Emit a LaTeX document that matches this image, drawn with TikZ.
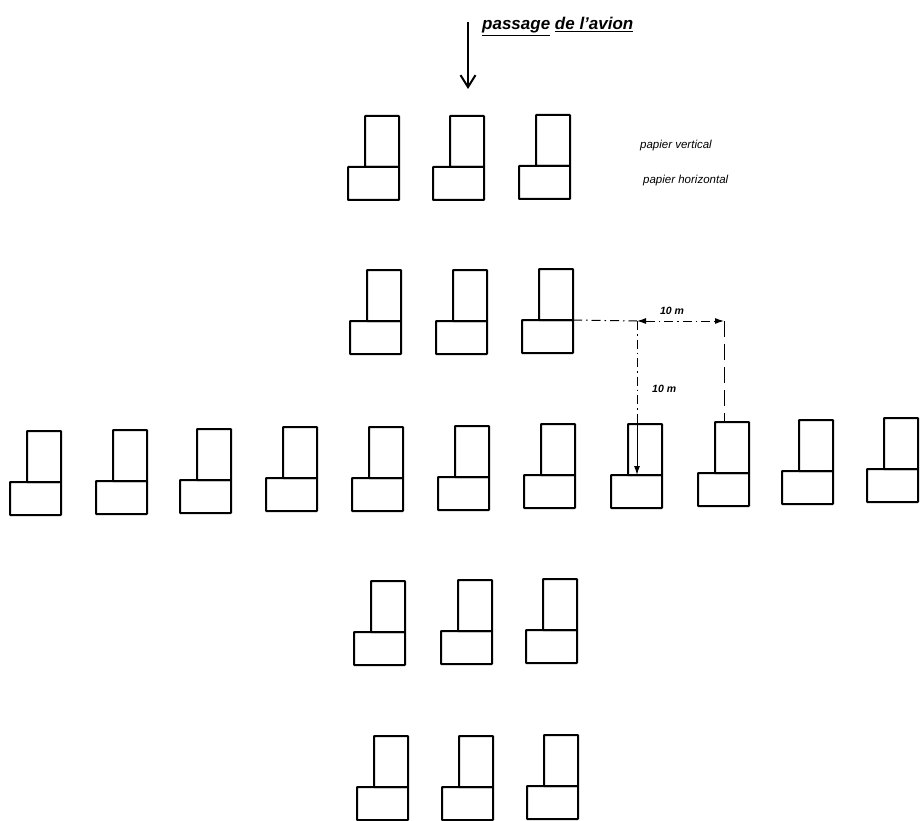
\documentclass[tikz,border=0pt]{standalone}
\usepackage{fontspec}
\setmainfont{Liberation Sans}
\usepackage{tikz}
\usetikzlibrary{arrows.meta,positioning,calc}
\tikzset{
  vpaper/.style={rectangle,draw,line width=2pt,rounded corners=0.6pt,
    inner sep=0pt,outer sep=0pt,minimum width=34pt,minimum height=51pt,
    anchor=south east},
  hpaper/.style={rectangle,draw,line width=2pt,rounded corners=0.6pt,
    inner sep=0pt,outer sep=0pt,minimum width=51pt,minimum height=33pt,
    anchor=north east},
  dimline/.style={line width=1pt,
    dash pattern=on 9pt off 4pt on 1.5pt off 4pt},
  dimarrow/.style={{Latex[length=9pt,width=6pt]}-{Latex[length=9pt,width=6pt]},dimline},
  legend/.style={font=\fontsize{11.5}{13}\selectfont\itshape,inner sep=0pt},
  dimlabel/.style={font=\fontsize{10.5}{12}\selectfont\bfseries\itshape,inner sep=0pt}
}

\begin{document}
\begin{tikzpicture}[x=1pt,y=-1pt]
  \useasboundingbox (0,0) rectangle (921,821);

  % direction of flight
  \coordinate (flytop) at (468,22);
  \coordinate (flybot) at (468,89);
  \draw[line width=2pt,-{Straight Barb[length=12pt,width=15pt]}] (flytop) -- (flybot);
  \node[anchor=base west,inner sep=0pt,
    font=\fontsize{17}{19}\selectfont\bfseries\itshape] (title) at (482,30)
    {\underline{passage} \underline{de l'avion}};

  % legend
  \node[legend,anchor=west] (lgv) at (640,146) {papier vertical};
  \node[legend,anchor=west] (lgh) at (643,181) {papier horizontal};

  % vertical arm (above and below the centre row)
  \foreach \n/\x/\y in {a1/399/167,a2/484/167,a3/570/166,
                        b1/401/321,b2/487/321,b3/573/320,
                        d1/405/632,d2/492/631,d3/577/630,
                        e1/408/787,e2/493/787,e3/578/786}{
    \node[vpaper] (v\n) at (\x,\y) {};
    \node[hpaper] (h\n) at (\x,\y) {};
  }
  % centre row
  \foreach \n/\x/\y in {c1/61/482,c2/147/481,c3/231/480,c4/317/478,
                        c5/403/478,c6/489/477,c7/575/475,c8/662/475,
                        c9/749/473,c10/833/471,c11/918/469}{
    \node[vpaper] (v\n) at (\x,\y) {};
    \node[hpaper] (h\n) at (\x,\y) {};
  }

  % spacing dimensions
  \coordinate (dimL) at (637,321);
  \coordinate (dimR) at (724,321);
  \draw[dimline] (hb3.north east) -- (dimL);
  \draw[dimarrow] (dimL) -- (dimR);
  \node[dimlabel,anchor=base] (lbh) at (672,314) {10 m};
  \draw[line width=1pt,dash pattern=on 16pt off 7pt] (dimR) -- (vc9.north -| dimR);
  \draw[dimline] (dimL) -- (vc8.north -| dimL);
  \draw[line width=1pt,-{Latex[length=9pt,width=6pt]}] (vc8.north -| dimL) -- (hc8.north -| dimL);
  \node[dimlabel,anchor=base west] (lbv) at (652,392) {10 m};
\end{tikzpicture}
\end{document}
